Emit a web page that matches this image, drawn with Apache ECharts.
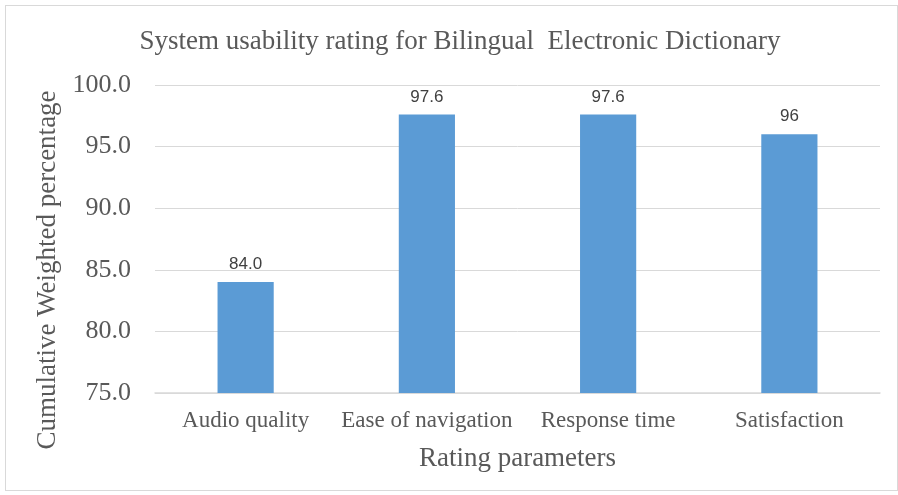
<!DOCTYPE html>
<html>
<head>
<meta charset="utf-8">
<script src="https://cdn.jsdelivr.net/npm/echarts@6/dist/echarts.min.js"></script>
<style>
  html, body { margin: 0; padding: 0; background: #fff; }
  #chart { position: absolute; left: 0; top: 0; width: 898px; height: 495px; }
  #frame { position: absolute; left: 5px; top: 5px; width: 893px; height: 486px; border: 1px solid #d9d9d9; box-sizing: border-box; pointer-events: none; }
</style>
</head>
<body>
<div id="chart"></div>
<div id="frame"></div>
<script>
// chart data
var categories = ['Audio quality', 'Ease of navigation', 'Response time', 'Satisfaction'];
var ratings = [84.0, 97.6, 97.6, 96];
var ratingLabels = ['84.0', '97.6', '97.6', '96'];
var yTicks = [75, 100, 5];

var serif = '"Liberation Serif", "DejaVu Serif", serif';
var Chart = echarts.init(document.getElementById('chart'));

var option = {
    animation: false,
    title: {
        text: 'System usability rating for Bilingual  Electronic Dictionary',
        left: 455,
        textAlign: 'center',
        top: 23,
        textStyle: {
            fontFamily: serif,
            fontSize: 27,
            fontWeight: 'normal',
            color: '#595959'
        }
    },
    grid: {
        left: 155,
        right: 18,
        top: 85,
        bottom: 102
    },
    xAxis: {
        type: 'category',
        data: categories,
        name: 'Rating parameters',
        nameLocation: 'middle',
        nameGap: 52,
        nameTextStyle: {
            fontFamily: serif,
            fontSize: 27,
            color: '#595959'
        },
        axisLine: { lineStyle: { color: '#d9d9d9', width: 1.5 } },
        axisTick: { show: false },
        axisLabel: {
            interval: 0,
            fontFamily: serif,
            fontSize: 23,
            color: '#595959',
            margin: 16
        }
    },
    yAxis: {
        type: 'value',
        min: yTicks[0],
        max: yTicks[1],
        interval: yTicks[2],
        name: 'Cumulative Weighted percentage',
        nameLocation: 'middle',
        nameGap: 89,
        nameTextStyle: {
            fontFamily: serif,
            fontSize: 27,
            color: '#595959',
            padding: [0, 62, 0, 0]
        },
        axisLine: { show: false },
        axisTick: { show: false },
        axisLabel: {
            fontFamily: serif,
            fontSize: 26,
            color: '#595959',
            margin: 24,
            formatter: function (v) { return v.toFixed(1); }
        },
        splitLine: { lineStyle: { color: '#d9d9d9', width: 1 } }
    },
    series: [{
        type: 'bar',
        data: ratings,
        barWidth: '31%',
        itemStyle: { color: '#5b9bd5' },
        label: {
            show: true,
            position: 'top',
            distance: 9,
            fontFamily: '"Liberation Sans", Arial, sans-serif',
            fontSize: 17,
            color: '#404040',
            formatter: function (p) { return ratingLabels[p.dataIndex]; }
        }
    }]
};
Chart.setOption(option);
</script>
</body>
</html>
